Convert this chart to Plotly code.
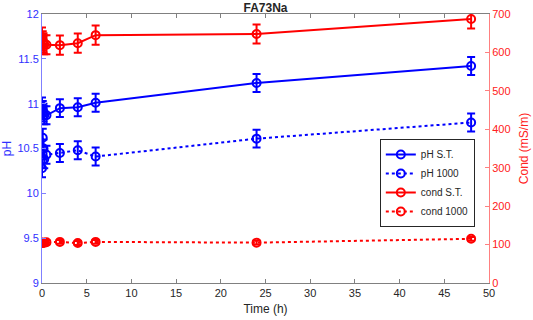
import plotly.graph_objects as go

time_h = [0, 0.083, 0.167, 0.25, 0.5, 2, 4, 6, 24, 48]
ph_st = [10.97, 10.93, 10.90, 10.87, 10.87, 10.95, 10.96, 11.01, 11.23, 11.42]
ph_st_err = [0.1, 0.1, 0.1, 0.1, 0.1, 0.1, 0.1, 0.1, 0.1, 0.1]
ph_1000 = [10.28, 10.62, 10.50, 10.38, 10.43, 10.45, 10.48, 10.41, 10.61, 10.79]
ph_1000_err = [0.1, 0.1, 0.1, 0.1, 0.1, 0.1, 0.1, 0.1, 0.1, 0.1]
cond_st = [640, 630, 625, 620, 620, 619, 624, 645, 648, 687]
cond_st_err = [25, 25, 25, 25, 25, 25, 25, 25, 25, 25]
cond_1000 = [105, 105, 105, 105, 106, 107, 104, 107, 105, 115]
cond_1000_err = [5, 5, 5, 5, 5, 5, 5, 5, 5, 5]

BLUE = "#0000ff"
RED = "#ff0000"
FONT = "Liberation Sans, Arial, sans-serif"

fig = go.Figure()

def add(y, err, name, color, dash, axis):
    fig.add_trace(go.Scatter(
        x=time_h, y=y, name=name, mode="lines+markers", yaxis=axis,
        line=dict(color=color, width=2, dash=dash),
        marker=dict(symbol="circle-open", size=8, color=color, line=dict(width=2, color=color)),
        error_y=dict(type="data", array=err, visible=True, color=color, thickness=2, width=4),
    ))

add(ph_st, ph_st_err, "pH S.T.", BLUE, "solid", "y")
add(ph_1000, ph_1000_err, "pH 1000", BLUE, "dot", "y")
add(cond_st, cond_st_err, "cond S.T.", RED, "solid", "y2")
add(cond_1000, cond_1000_err, "cond 1000", RED, "dot", "y2")

fig.update_layout(
    width=533, height=320,
    margin=dict(l=42, r=44, t=14, b=37, autoexpand=False),
    paper_bgcolor="white", plot_bgcolor="white",
    font=dict(family=FONT, size=11, color="#262626"),
    title=dict(text="<b>FA73Na</b>", x=0.5, xref="paper", y=0.988, yanchor="top",
               automargin=False,
               font=dict(family=FONT, size=12, color="#262626")),
    showlegend=True,
    legend=dict(x=0.862, y=0.372, xanchor="center", yanchor="middle",
                bgcolor="white", bordercolor="#262626", borderwidth=1,
                font=dict(family=FONT, size=10, color="#262626"),
                itemwidth=30, tracegroupgap=0),
    xaxis=dict(range=[0, 50], tickvals=[0, 5, 10, 15, 20, 25, 30, 35, 40, 45, 50],
               automargin=False,
               showgrid=False, zeroline=False, showline=True, linecolor="#808080", linewidth=1,
               mirror="ticks", ticks="inside", ticklen=4, tickcolor="#808080",
               tickfont=dict(family=FONT, size=11, color="#262626"),
               title=dict(text="Time (h)", standoff=6, font=dict(family=FONT, size=12, color="#262626"))),
    yaxis=dict(range=[9, 12], tickvals=[9, 9.5, 10, 10.5, 11, 11.5, 12],
               ticktext=["9", "9.5", "10", "10.5", "11", "11.5", "12"],
               automargin=False,
               showgrid=False, zeroline=False, showline=True, linecolor="#8080ff", linewidth=1,
               ticks="inside", ticklen=4, tickcolor="#8080ff",
               tickfont=dict(family=FONT, size=11, color="#3030ff"),
               title=dict(text="pH", standoff=10, font=dict(family=FONT, size=12, color="#3030ff"))),
    yaxis2=dict(range=[0, 700], tickvals=[0, 100, 200, 300, 400, 500, 600, 700],
                overlaying="y", side="right", anchor="x", automargin=False,
                showgrid=False, zeroline=False, showline=True, linecolor="#ff8080", linewidth=1,
                ticks="inside", ticklen=4, tickcolor="#ff8080",
                tickfont=dict(family=FONT, size=11, color="#ff2020"),
                title=dict(text="Cond (mS/m)", standoff=10, font=dict(family=FONT, size=12, color="#ff2020"))),
)

fig.write_html("out.html", config={"displayModeBar": False},
               post_script="document.body.style.margin='0';document.body.style.overflow='hidden';")
